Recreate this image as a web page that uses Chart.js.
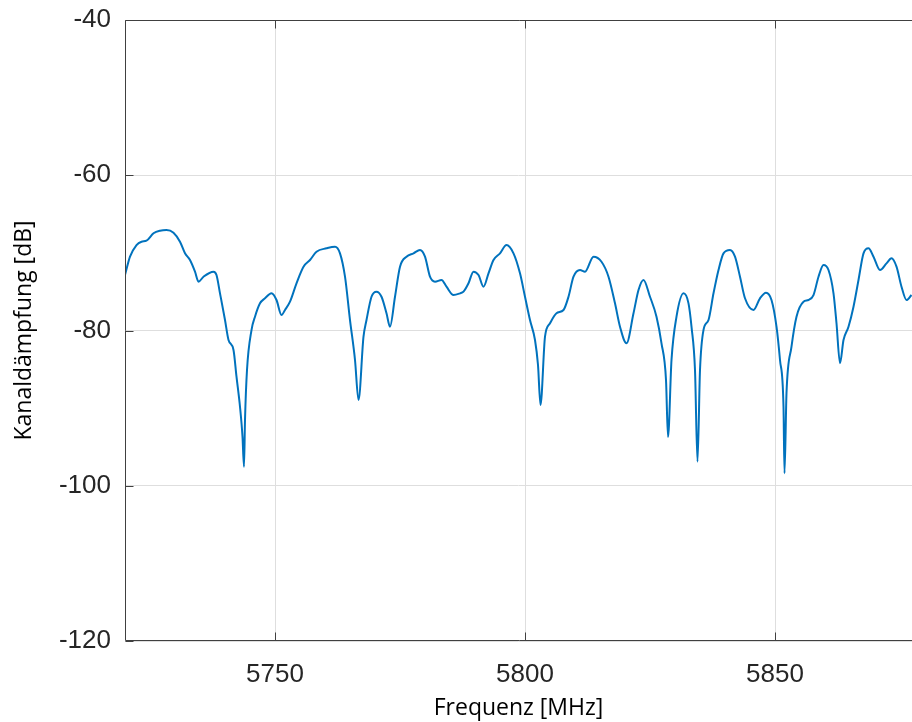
<!DOCTYPE html>
<html>
<head>
<meta charset="utf-8">
<script src="https://cdn.jsdelivr.net/npm/chart.js@4.4.1/dist/chart.umd.min.js"></script>
<style>
html, body { margin: 0; padding: 0; background: #fff; }
</style>
</head>
<body>
<canvas id="chart" width="912" height="722"></canvas>
<script>
const freqMHz = [
  5720.0, 5721.0, 5722.3, 5723.3, 5724.3, 5725.7, 5727.0, 5728.3, 5729.7, 5731.0,
  5732.0, 5733.0, 5734.0, 5734.7, 5735.7, 5737.7, 5738.3, 5739.0, 5740.0, 5740.7,
  5741.7, 5742.3, 5743.0, 5743.5, 5743.8, 5744.0, 5744.4, 5745.3, 5746.0, 5747.0,
  5748.0, 5749.3, 5750.3, 5751.3, 5752.0, 5753.0, 5754.3, 5755.7, 5757.0, 5758.3,
  5760.3, 5762.0, 5763.0, 5764.0, 5765.0, 5766.0, 5766.7, 5767.7, 5768.3, 5769.3,
  5770.3, 5771.3, 5772.3, 5773.0, 5774.0, 5775.0, 5776.3, 5777.7, 5779.0, 5780.0,
  5781.0, 5782.0, 5783.3, 5784.3, 5785.7, 5787.0, 5787.7, 5788.7, 5789.7, 5790.7,
  5791.7, 5792.7, 5793.7, 5795.0, 5796.3, 5797.7, 5799.0, 5800.0, 5801.0, 5802.0,
  5802.6, 5803.1, 5804.0, 5805.0, 5806.3, 5807.7, 5808.7, 5809.7, 5811.0, 5812.0,
  5813.7, 5815.3, 5816.7, 5818.0, 5819.0, 5820.3, 5821.7, 5822.7, 5823.7, 5825.0,
  5826.3, 5827.3, 5828.2, 5828.6, 5829.3, 5830.3, 5831.7, 5832.7, 5833.3, 5834.0,
  5834.5, 5835.0, 5835.7, 5836.7, 5837.7, 5838.7, 5839.7, 5841.0, 5842.0, 5843.0,
  5844.0, 5845.7, 5847.0, 5848.2, 5849.3, 5850.3, 5851.0, 5851.7, 5851.9, 5852.3,
  5853.3, 5854.3, 5855.7, 5856.7, 5857.7, 5858.7, 5859.7, 5860.7, 5861.7, 5862.3,
  5863.0, 5863.7, 5864.7, 5865.7, 5866.7, 5867.7, 5868.7, 5869.7, 5871.0, 5872.3,
  5873.3, 5874.3, 5875.3, 5876.3, 5877.3
];
const dampingDb = [
  -72.85, -70.49, -68.99, -68.56, -68.43, -67.48, -67.14, -67.05, -67.40, -68.56,
  -70.05, -70.92, -72.42, -73.71, -73.07, -72.42, -72.85, -75.21, -78.65, -81.22,
  -82.51, -85.95, -89.82, -93.68, -97.55, -91.53, -85.09, -79.94, -78.22, -76.50,
  -75.85, -75.21, -76.07, -78.00, -77.36, -76.29, -73.92, -71.78, -70.92, -69.85,
  -69.41, -69.20, -70.06, -73.07, -78.65, -83.80, -88.95, -80.80, -78.65, -75.65,
  -75.00, -75.65, -77.78, -79.51, -75.65, -71.78, -70.49, -70.06, -69.63, -70.49,
  -73.07, -73.71, -73.49, -74.36, -75.43, -75.21, -75.00, -73.92, -72.42, -72.85,
  -74.36, -72.64, -70.92, -70.06, -68.99, -70.06, -72.64, -75.65, -78.65, -81.22,
  -84.44, -89.60, -80.80, -79.07, -77.78, -77.36, -75.65, -73.07, -72.21, -72.42,
  -70.49, -71.14, -73.07, -76.50, -79.51, -81.65, -77.78, -74.78, -73.49, -75.65,
  -78.22, -81.65, -86.38, -93.72, -83.80, -78.22, -75.21, -76.50, -79.51, -85.09,
  -96.90, -85.09, -79.94, -78.65, -75.21, -72.21, -70.06, -69.63, -70.49, -73.07,
  -75.85, -77.36, -75.85, -75.13, -76.07, -79.51, -83.80, -89.82, -98.40, -88.05,
  -82.09, -78.22, -76.29, -76.07, -75.43, -73.07, -71.56, -72.21, -75.21, -79.07,
  -84.22, -81.22, -79.51, -76.93, -73.49, -70.06, -69.41, -70.49, -72.21, -71.35,
  -70.70, -71.78, -74.36, -76.07, -75.43
];
const xTicks = [5750, 5800, 5850];
const yTicks = [-120, -100, -80, -60, -40];
const xRange = [5720, 5877.4];
const yRange = [-120, -40];

// box around the plot with inward tick marks
const boxTicks = {
  id: 'boxTicks',
  afterDraw(chart) {
    const { ctx, chartArea: a, scales } = chart;
    const L = Math.round(a.left) + 0.5, T = Math.round(a.top) + 0.5, B = Math.round(a.bottom) - 0.5;
    ctx.save();
    ctx.strokeStyle = '#404040';
    ctx.lineWidth = 1;
    ctx.beginPath();
    ctx.moveTo(a.right + 1, T); ctx.lineTo(L, T); ctx.lineTo(L, B); ctx.lineTo(a.right + 1, B);
    xTicks.forEach(v => {
      const px = Math.round(scales.x.getPixelForValue(v)) + 0.5;
      ctx.moveTo(px, B); ctx.lineTo(px, B - 8);
      ctx.moveTo(px, T); ctx.lineTo(px, T + 8);
    });
    yTicks.forEach(v => {
      const py = Math.round(scales.y.getPixelForValue(v)) + 0.5;
      ctx.moveTo(L, py); ctx.lineTo(L + 8, py);
    });
    ctx.stroke();
    ctx.restore();
  }
};

const tickFont = { family: '"Liberation Sans", Arial, sans-serif', size: 26 };
const titleFont = { family: '"Open Sans", "Noto Sans", sans-serif', size: 23 };

new Chart(document.getElementById('chart'), {
  type: 'line',
  data: {
    datasets: [{
      data: freqMHz.map((f, i) => ({ x: f, y: dampingDb[i] })),
      borderColor: '#0072BD',
      borderWidth: 2,
      pointRadius: 0,
      cubicInterpolationMode: 'monotone',
      fill: false
    }]
  },
  options: {
    responsive: false,
    animation: false,
    layout: { padding: { top: 20, right: 0, bottom: 0, left: 0 } },
    plugins: { legend: { display: false }, tooltip: { enabled: false } },
    scales: {
      x: {
        type: 'linear',
        min: xRange[0], max: xRange[1],
        afterBuildTicks: s => { s.ticks = xTicks.map(v => ({ value: v })); },
        afterFit: s => { s.height = 81; s.paddingLeft = 0; s.paddingRight = 0; },
        grid: { color: '#dedede', drawTicks: false },
        border: { display: false },
        ticks: { color: '#262626', font: tickFont, padding: 18, maxRotation: 0, callback: v => String(v) },
        title: { display: true, text: 'Frequenz [MHz]', color: '#000', font: titleFont, padding: { top: 0, bottom: 0 } }
      },
      y: {
        min: yRange[0], max: yRange[1],
        afterBuildTicks: s => { s.ticks = yTicks.map(v => ({ value: v })); },
        afterFit: s => { s.width = 125; s.paddingTop = 0; s.paddingBottom = 0; },
        grid: { color: '#dedede', drawTicks: false },
        border: { display: false },
        ticks: { color: '#262626', font: tickFont, padding: 14 },
        title: { display: true, text: 'Kanaldämpfung [dB]', color: '#000', font: titleFont, padding: { top: 11, bottom: 0 } }
      }
    }
  },
  plugins: [boxTicks]
});
</script>
</body>
</html>
